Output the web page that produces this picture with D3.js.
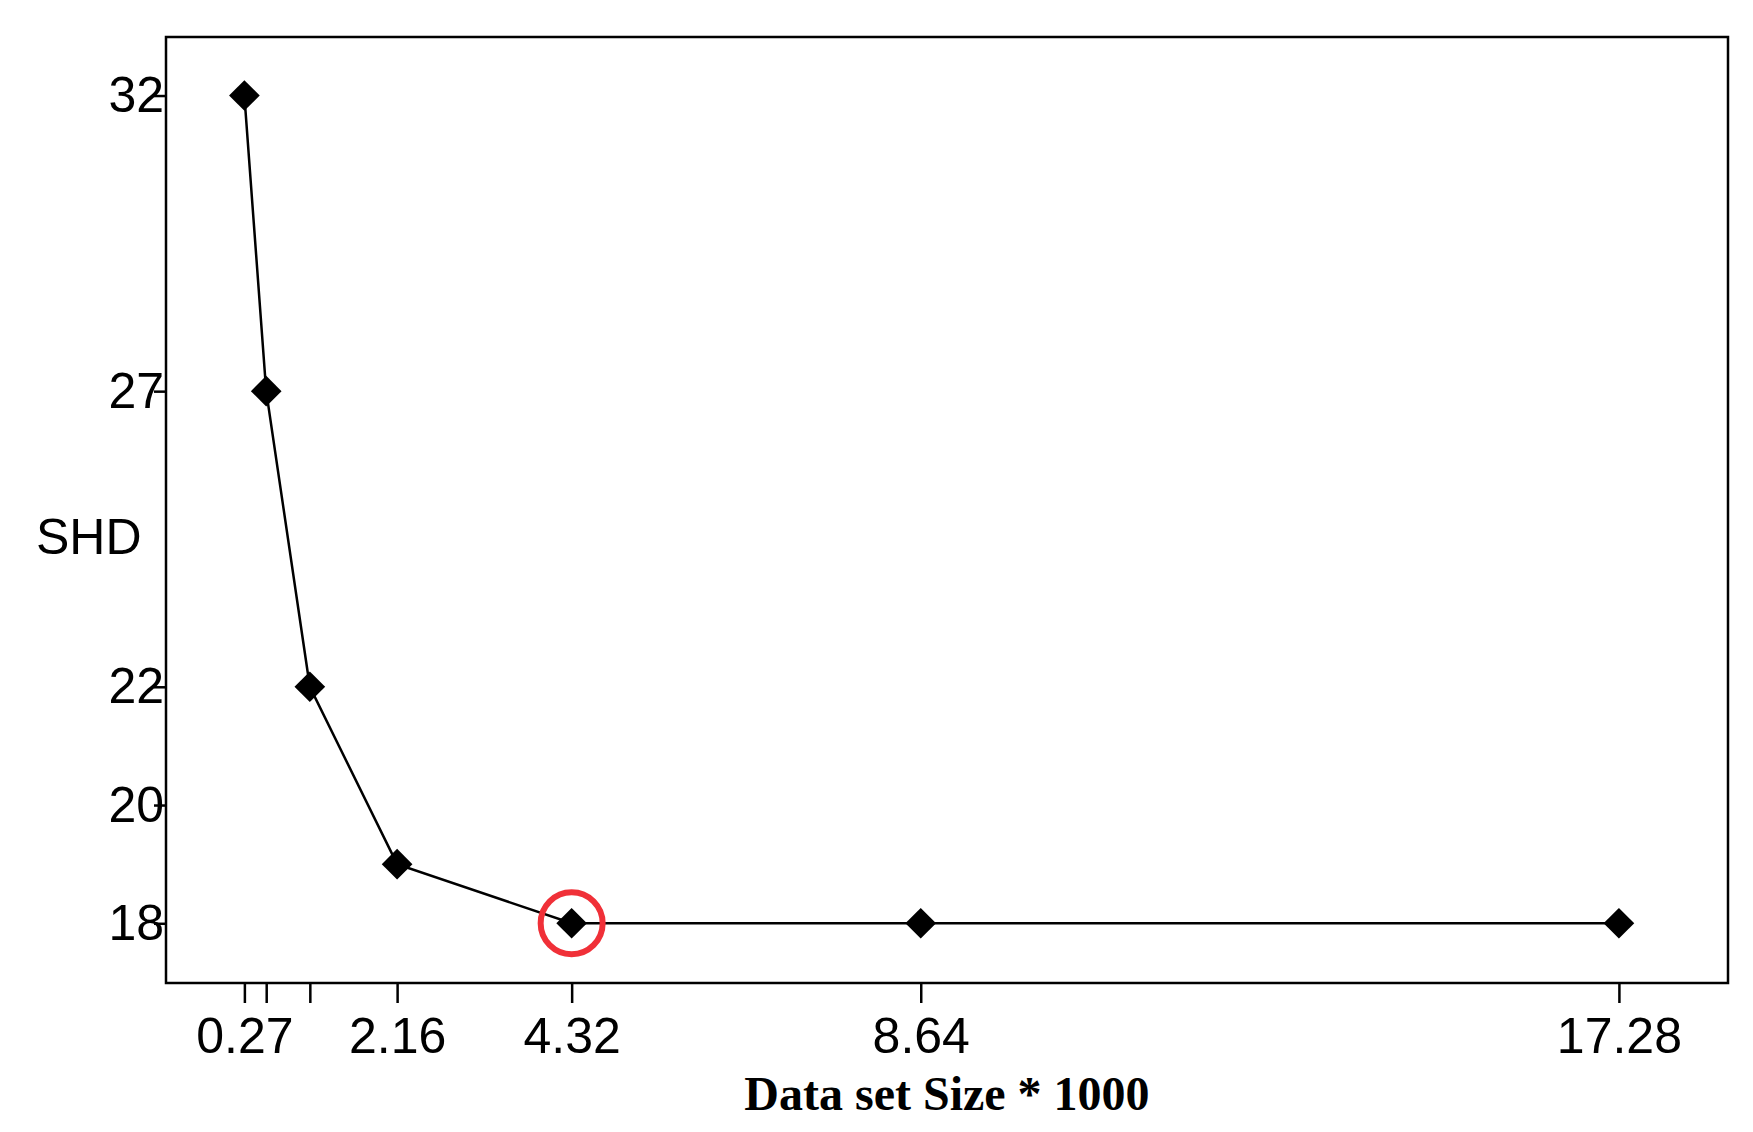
<!DOCTYPE html>
<html>
<head>
<meta charset="utf-8">
<script src="https://cdn.jsdelivr.net/npm/d3@7"></script>
<style>
  body { margin: 0; background: #fff; }
</style>
</head>
<body>
<svg id="chart" width="1753" height="1132"></svg>
<script>
// data
const sizes = [0.27, 0.54, 1.08, 2.16, 4.32, 8.64, 17.28];
const shd = [32, 27, 22, 19, 18, 18, 18];
const xTickLabels = {0.27: "0.27", 2.16: "2.16", 4.32: "4.32", 8.64: "8.64", 17.28: "17.28"};
const yTicks = [18, 20, 22, 27, 32];
const chosen = 4.32; // circled point

const svg = d3.select("#chart");
const plotLeft = 166, plotRight = 1728, plotTop = 37, plotBottom = 983;

const x = d3.scaleLinear().domain([-0.70, 18.63]).range([plotLeft, plotRight]);
const y = d3.scaleLinear().domain([16.99, 32.99]).range([plotBottom, plotTop]);

// frame
svg.append("rect")
    .attr("x", plotLeft).attr("y", plotTop)
    .attr("width", plotRight - plotLeft).attr("height", plotBottom - plotTop)
    .attr("fill", "none").attr("stroke", "#000").attr("stroke-width", 2.5);

// x axis
let xAxis = svg.append("g").attr("transform", `translate(0,${plotBottom})`)
    .call(d3.axisBottom(x).tickValues(sizes).tickSize(20).tickPadding(14)
        .tickFormat(d => xTickLabels[d] || ""));
xAxis.select(".domain").remove();
xAxis.selectAll("line").attr("stroke-width", 2.5);
xAxis.selectAll("text").attr("font-family", "Liberation Sans, Arial, sans-serif")
    .attr("font-size", 50).attr("fill", "#000");

// y axis (labels overlap the ticks as in the original)
let yAxis = svg.append("g").attr("transform", `translate(${plotLeft},0)`)
    .call(d3.axisLeft(y).tickValues(yTicks).tickSize(12).tickPadding(-10));
yAxis.select(".domain").remove();
yAxis.selectAll("line").attr("stroke-width", 2.5);
yAxis.selectAll("text").attr("font-family", "Liberation Sans, Arial, sans-serif")
    .attr("font-size", 50).attr("fill", "#000");

// axis titles
svg.append("text").attr("x", 36).attr("y", 554)
    .attr("font-family", "Liberation Sans, Arial, sans-serif").attr("font-size", 50)
    .text("SHD");
svg.append("text").attr("x", (plotLeft + plotRight) / 2).attr("y", 1110)
    .attr("text-anchor", "middle")
    .attr("font-family", "Liberation Serif, Times New Roman, serif")
    .attr("font-weight", "bold").attr("font-size", 48)
    .text("Data set Size * 1000");

// line
const pts = sizes.map((s, i) => [s, shd[i]]);
svg.append("path").datum(pts)
    .attr("fill", "none").attr("stroke", "#000").attr("stroke-width", 2.5)
    .attr("d", d3.line().x(d => x(d[0])).y(d => y(d[1])));

// diamond markers
svg.selectAll(".pt").data(pts).enter().append("path")
    .attr("transform", d => `translate(${x(d[0])},${y(d[1])})`)
    .attr("d", d3.symbol().type(d3.symbolDiamond2).size(600))
    .attr("fill", "#000");

// highlight circle
const ci = sizes.indexOf(chosen);
svg.append("circle")
    .attr("cx", x(chosen)).attr("cy", y(shd[ci])).attr("r", 31)
    .attr("fill", "none").attr("stroke", "#f03038").attr("stroke-width", 6);
</script>
</body>
</html>
